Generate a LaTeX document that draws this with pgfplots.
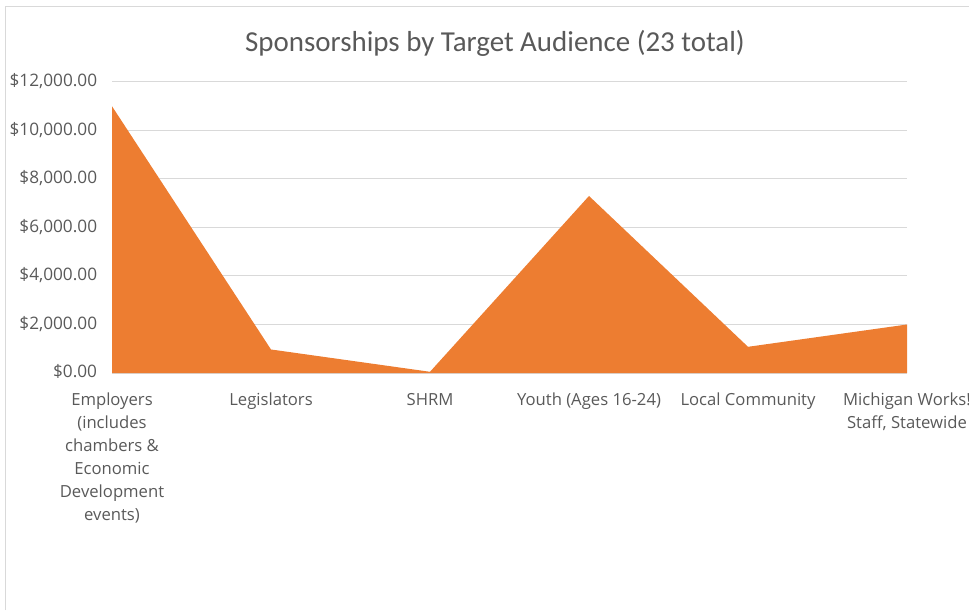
\documentclass[border=0pt]{standalone}
\usepackage{pgfplots}
\pgfplotsset{compat=1.18}
\usepackage{fontspec}
\setmainfont{Open Sans}
\newfontfamily\titlefont{Carlito}
\definecolor{areaorange}{HTML}{ED7D31}
\definecolor{txtgray}{HTML}{595959}
\definecolor{gridgray}{HTML}{D9D9D9}
\begin{document}
\begin{tikzpicture}
\path[use as bounding box] (0pt,0pt) rectangle (726.75pt,457.5pt);
\draw[gridgray, line width=0.75pt] (3.75pt,0pt) -- (3.75pt,452.25pt) -- (726.75pt,452.25pt);
\node[text=txtgray, font=\titlefont\fontsize{21.7}{25}\selectfont] at (371.25pt,425.25pt) {Sponsorships by Target Audience (23 total)};
\begin{axis}[
  at={(84pt,177.75pt)}, anchor=south west,
  scale only axis, width=596.25pt, height=218.25pt,
  xmin=0, xmax=5, ymin=0, ymax=12000,
  axis x line*=bottom, axis y line*=left,
  x axis line style={gridgray, line width=0.75pt, -},
  y axis line style={draw=none},
  scaled y ticks=false,
  xtick={0,1,2,3,4,5},
  xticklabels={{Employers\\(includes\\chambers \&\\Economic\\Development\\events)},Legislators,SHRM,{Youth (Ages 16-24)},{Local Community},{Michigan Works!\\Staff, Statewide}},
  ytick={0,2000,4000,6000,8000,10000,12000},
  yticklabels={{\$0.00},{\$2,000.00},{\$4,000.00},{\$6,000.00},{\$8,000.00},{\$10,000.00},{\$12,000.00}},
  ymajorgrids, grid style={gridgray, line width=0.75pt},
  major tick length=0pt,
  typeset ticklabels with strut,
  tick label style={text=txtgray, inner sep=0pt},
  xticklabel style={font=\fontsize{12.5}{17.25}\selectfont, align=center, anchor=north, yshift=-12pt},
  yticklabel style={font=\fontsize{12.9}{17.25}\selectfont, anchor=east, xshift=-11pt},
  clip=false,
]
\addplot[fill=areaorange, draw=none] coordinates {
  (0,11000) (1,970) (2,50) (3,7300) (4,1080) (5,2000)
} \closedcycle;
\end{axis}
\end{tikzpicture}
\end{document}
